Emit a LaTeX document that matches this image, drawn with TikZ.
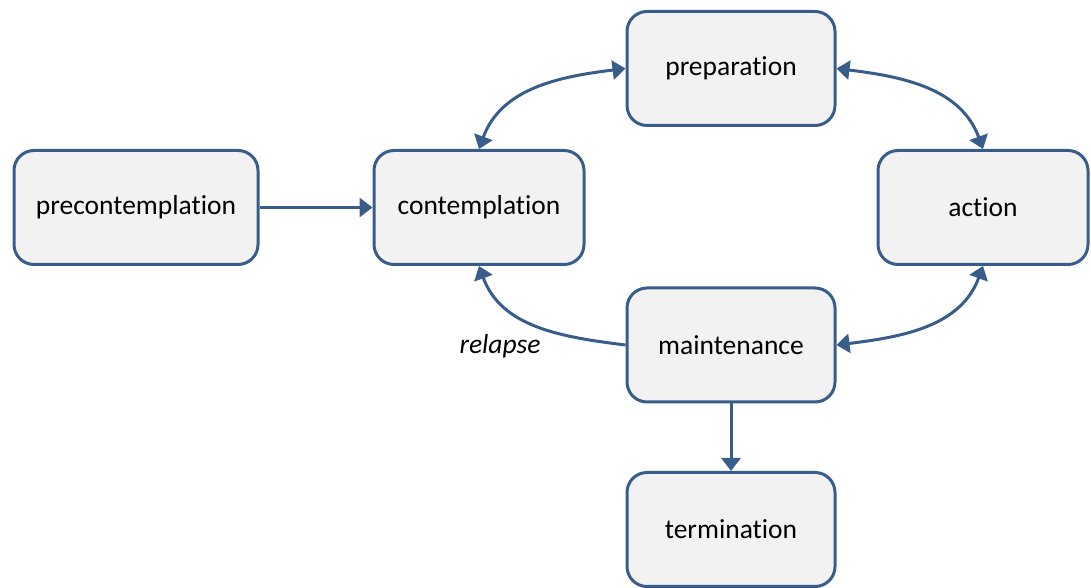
\documentclass[tikz,border=0pt]{standalone}
\usepackage{fontspec}
\setmainfont[Ligatures={NoCommon}]{Carlito}
\usetikzlibrary{arrows.meta}
\definecolor{bord}{RGB}{56,93,138}
\definecolor{boxfill}{RGB}{242,242,242}
\begin{document}
\begin{tikzpicture}[x=1pt,y=1pt,
  stage/.style={draw=bord, fill=boxfill, line width=3pt, rounded corners=20pt,
    minimum height=114pt, inner sep=0pt, font=\fontsize{27.5}{32}\selectfont},
  conn/.style={draw=bord, line width=3pt, -{Triangle[length=13pt,width=19pt]}},
  bconn/.style={draw=bord, line width=3pt, {Triangle[length=13pt,width=19pt]}-{Triangle[length=13pt,width=19pt]}}
]
\useasboundingbox (0,0) rectangle (1091,588);
\node[stage, minimum width=244pt] (pre) at (136,380.5) {precontemplation};
\node[stage, minimum width=210pt] (con) at (479,380.5) {contemplation};
\node[stage, minimum width=208pt] (prep) at (731,519.5) {preparation};
\node[stage, minimum width=210pt] (act) at (983,380.5) {action};
\node[stage, minimum width=208pt] (main) at (731,243) {maintenance};
\node[stage, minimum width=208pt] (term) at (731,58.5) {termination};
\draw[conn] (pre) -- (con);
\draw[bconn] (prep.west) to[out=187,in=70] (con.north);
\draw[bconn] (prep.east) to[out=-7,in=110] (act.north);
\draw[bconn] (act.south) to[out=250,in=7] (main.east);
\draw[conn] (main.west) to[out=173,in=-70] (con.south);
\draw[conn] (main) -- (term);
\node[font=\fontsize{27.5}{32}\selectfont\itshape] (rel) at (500,242) {relapse};
\end{tikzpicture}
\end{document}
